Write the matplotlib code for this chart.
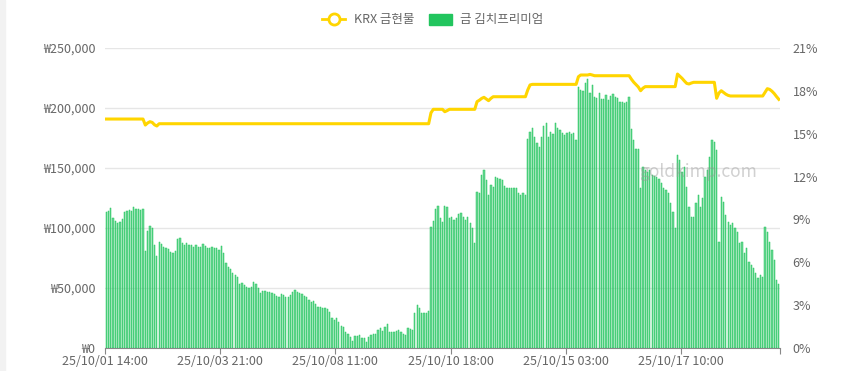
import numpy as np
import matplotlib
matplotlib.use("Agg")
import matplotlib.pyplot as plt
from matplotlib.lines import Line2D
from matplotlib.patches import Patch, Rectangle

plt.rcParams['font.family'] = ['Noto Sans CJK KR', 'DejaVu Sans']

# 데이터
tick_labels = ['25/10/01 14:00', '25/10/03 21:00', '25/10/08 11:00',
               '25/10/10 18:00', '25/10/15 03:00', '25/10/17 10:00']

# 금 김치프리미엄 (%)
premium = [
    9.54, 9.61, 9.80, 9.08, 8.91, 8.77, 8.80, 9.01, 9.54, 9.59,
    9.66, 9.59, 9.85, 9.71, 9.71, 9.66, 9.71, 6.81, 8.21, 8.54,
    8.38, 7.21, 6.44, 7.44, 7.26, 7.09, 6.98, 6.91, 6.74, 6.67,
    6.81, 7.61, 7.68, 7.33, 7.21, 7.33, 7.21, 7.21, 7.09, 7.21,
    7.09, 7.05, 7.28, 7.14, 6.98, 6.98, 7.05, 6.98, 7.02, 6.86,
    7.14, 6.63, 5.93, 5.69, 5.51, 5.23, 5.11, 4.99, 4.48, 4.53,
    4.41, 4.25, 4.18, 4.29, 4.64, 4.48, 4.18, 3.83, 4.01, 4.01,
    3.94, 3.94, 3.83, 3.76, 3.66, 3.59, 3.76, 3.71, 3.59, 3.59,
    3.71, 3.94, 4.06, 3.94, 3.87, 3.78, 3.64, 3.55, 3.36, 3.24,
    3.31, 3.08, 2.89, 2.85, 2.78, 2.78, 2.73, 2.54, 2.08, 1.96,
    2.08, 1.84, 1.54, 1.49, 1.14, 0.98, 0.79, 0.51, 0.86, 0.84,
    0.91, 0.68, 0.68, 0.44, 0.79, 0.91, 0.96, 0.96, 1.26, 1.42,
    1.21, 1.49, 1.68, 1.10, 1.10, 1.14, 1.19, 1.26, 1.14, 0.98,
    0.91, 1.38, 1.31, 1.26, 2.47, 3.01, 2.78, 2.43, 2.43, 2.43,
    2.61, 8.45, 8.91, 9.71, 9.94, 9.08, 8.84, 9.94, 9.85, 9.08,
    9.19, 8.96, 9.08, 9.38, 9.43, 9.19, 8.96, 9.19, 8.73, 8.38,
    7.37, 10.94, 10.83, 12.11, 12.46, 11.76, 10.71, 11.41, 11.29, 11.99,
    11.88, 11.81, 11.76, 11.34, 11.18, 11.18, 11.18, 11.18, 11.18, 10.83,
    10.71, 10.83, 10.71, 14.61, 15.14, 15.38, 14.79, 14.33, 14.05, 14.79,
    15.54, 15.73, 14.79, 15.14, 14.98, 15.73, 15.38, 15.26, 15.03, 14.91,
    15.07, 15.14, 14.98, 15.03, 14.56, 18.29, 18.06, 18.01, 18.57, 18.81,
    17.83, 18.41, 17.59, 17.48, 17.83, 17.41, 17.41, 17.71, 17.36, 17.64,
    17.78, 17.55, 17.53, 17.24, 17.24, 17.17, 17.24, 17.55, 15.31, 14.56,
    13.91, 13.91, 11.18, 12.65, 12.46, 12.34, 12.46, 12.11, 12.04, 11.95,
    11.81, 11.53, 11.18, 11.06, 10.83, 10.17, 9.54, 8.38, 13.51, 13.16,
    12.34, 12.69, 11.29, 9.89, 9.19, 9.19, 10.13, 10.71, 9.89, 10.48,
    11.99, 12.46, 13.39, 14.56, 14.44, 13.86, 7.44, 10.59, 10.24, 9.31,
    8.84, 8.61, 8.77, 8.38, 8.14, 7.33, 7.44, 6.63, 6.98, 6.04,
    5.81, 5.58, 5.23, 4.88, 5.11, 4.99, 8.49, 8.14, 7.44, 6.86,
    6.16, 4.76, 4.48,
]

# KRX 금현물 (원) - 구간별 값과 반복 횟수
price_levels = [190800, 185800, 187500, 188600, 188000, 186000, 185000, 186900,
                196000, 198900, 196900, 197800, 198900,
                205300, 206500, 208000, 208900, 207500, 206100, 208000, 209400,
                215000, 219200, 219700,
                226100, 227500, 228000, 227500, 226900,
                224000, 221500, 219500, 217500, 214400, 216500, 217800,
                228300, 226500, 224700, 222500, 220500, 220000, 220800, 221400,
                208100, 212500, 214400, 213000, 211500, 210500, 210000,
                213000, 216100, 215500, 214000, 212000, 209500, 207200]
price_counts = [17, 1, 1, 1, 1, 1, 1, 118,
                1, 5, 1, 1, 12,
                1, 1, 1, 1, 1, 1, 1, 15,
                1, 1, 20,
                1, 4, 1, 1, 16,
                1, 1, 1, 1, 1, 1, 14,
                1, 1, 1, 1, 1, 1, 1, 10,
                1, 1, 1, 1, 1, 1, 15,
                1, 1, 1, 1, 1, 1, 1]
price = np.repeat(price_levels, price_counts)

TICK_EVERY = 50
n = len(premium)
x = np.arange(n)

GREEN = '#22c55e'
YELLOW = '#ffd500'
TXT = '#666666'

fig = plt.figure(figsize=(8.43, 3.71), dpi=100)
fig.patches.append(Rectangle((0, 0), 5 / 843, 1, transform=fig.transFigure,
                             color='#f2f2f2', zorder=0))

ax = fig.add_axes([105 / 843, 23 / 371, 675 / 843, 300 / 371])
ax.set_ylim(0, 250000)
ax.set_yticks(np.arange(0, 250001, 50000))
ax.set_yticklabels(['₩{:,}'.format(v) for v in range(0, 250001, 50000)])
ax.grid(axis='y', color='#e6e6e6', linewidth=1)
ax.tick_params(axis='y', length=0, pad=7, labelsize=9, labelcolor=TXT)

# 막대 (김치프리미엄, 오른쪽 축)
axb = ax.twinx()
axb.bar(x, premium, width=0.55, color=(0.133, 0.773, 0.369, 0.68),
        edgecolor=GREEN, linewidth=0.35)
axb.set_ylim(0, 21)
axb.set_yticks(np.arange(0, 22, 3))
axb.set_yticklabels(['{}%'.format(v) for v in range(0, 22, 3)])
axb.tick_params(axis='y', length=0, pad=9, labelsize=9, labelcolor=TXT)

# 선 (금현물 가격, 왼쪽 축 기준)
axl = ax.twinx()
axl.plot(x, price, color=YELLOW, linewidth=2.2, solid_joinstyle='round')
axl.set_ylim(0, 250000)
axl.set_yticks([])
axl.text(0.879, 0.587, 'goldkimp.com', transform=axl.transAxes,
         fontsize=12.5, color='#999999', alpha=0.45, ha='center', va='center')

tick_pos = list(np.arange(0, n, TICK_EVERY) - 0.5) + [n - 0.5]
for a in (ax, axb, axl):
    a.set_xlim(-0.5, n - 0.5)
    for s in ('top', 'left', 'right', 'bottom'):
        a.spines[s].set_visible(False)
ax.spines['bottom'].set_visible(True)
ax.spines['bottom'].set_color('#888888')
ax.set_xticks(tick_pos)
ax.set_xticklabels(tick_labels + [''])
ax.tick_params(axis='x', length=4, color='#888888', labelsize=9,
               labelcolor=TXT, pad=1)
axb.tick_params(axis='x', bottom=False, labelbottom=False)
axl.tick_params(axis='x', bottom=False, labelbottom=False)

handles = [Line2D([0], [0], color=YELLOW, linewidth=2, marker='o',
                  markersize=8, markerfacecolor='white',
                  markeredgecolor=YELLOW, markeredgewidth=2),
           Patch(facecolor=GREEN, edgecolor=GREEN)]
fig.legend(handles, ['KRX 금현물', '금 김치프리미엄'], loc='center',
           bbox_to_anchor=(433 / 843, 1 - 20 / 371), ncol=2, frameon=False,
           fontsize=9, labelcolor=TXT, handlelength=1.8, handleheight=1.0,
           handletextpad=0.7, columnspacing=1.2)

fig.savefig('out.png', dpi=100)
